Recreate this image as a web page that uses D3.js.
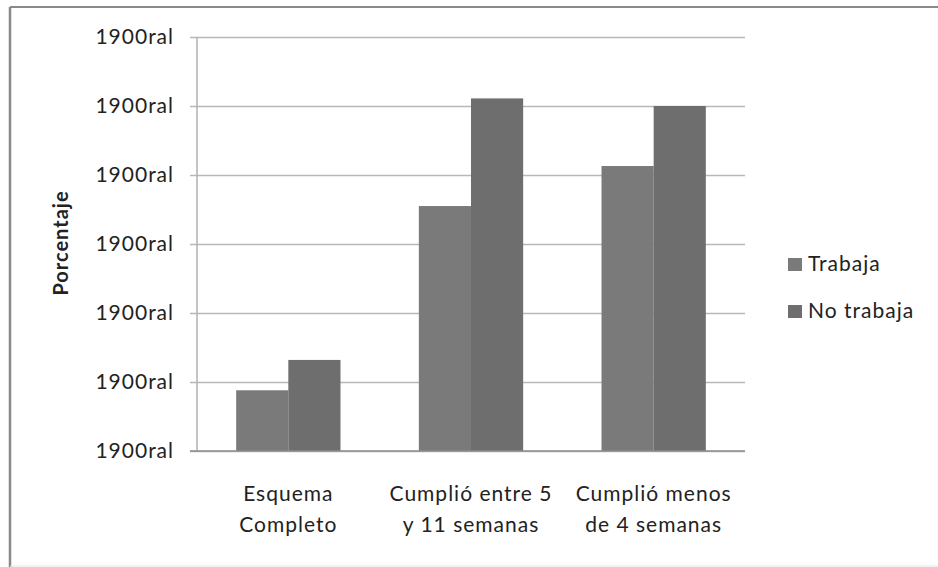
<!DOCTYPE html>
<html>
<head>
<meta charset="utf-8">
<script src="https://cdn.jsdelivr.net/npm/d3@7"></script>
<style>
  html, body { margin: 0; padding: 0; background: #fff; }
  svg { display: block; }
  text { font-family: Lato, "Open Sans", sans-serif; fill: #222; letter-spacing: 1px; }
</style>
</head>
<body>
<svg id="chart" width="938" height="567"></svg>
<script>
// Categories (two-line labels) and series values (percent)
const categories = ["Esquema Completo", "Cumplió entre 5 y 11 semanas", "Cumplió menos de 4 semanas"];
const categoryLines = [["Esquema", "Completo"], ["Cumplió entre 5", "y 11 semanas"], ["Cumplió menos", "de 4 semanas"]];
const seriesNames = ["Trabaja", "No trabaja"];
const trabaja = [8.8, 35.5, 41.3];
const noTrabaja = [13.2, 51.1, 50.0];
const tickValues = [0, 10, 20, 30, 40, 50, 60];
const tickLabel = "1900ral";
const colors = ["#7a7a7a", "#6e6e6e"];

const svg = d3.select("#chart");
const W = 938, H = 567;

// frame around the chart
svg.append("line").attr("x1", 10).attr("x2", W).attr("y1", 7).attr("y2", 7)
  .attr("stroke", "#8a8a8a").attr("stroke-width", 2);
svg.append("line").attr("x1", 10).attr("x2", 10).attr("y1", 7).attr("y2", H)
  .attr("stroke", "#8a8a8a").attr("stroke-width", 2.5);
svg.append("line").attr("x1", 10).attr("x2", W).attr("y1", 566).attr("y2", 566)
  .attr("stroke", "#e6e6e6").attr("stroke-width", 1);

const plot = { left: 197, right: 745, top: 37, bottom: 451 };

const y = d3.scaleLinear().domain([0, 60]).range([plot.bottom, plot.top]);
const x0 = d3.scaleBand().domain(categories).range([plot.left, plot.right]).padding(0);
const gap = x0.bandwidth() * 0.2145;
const x1 = d3.scaleBand().domain(seriesNames).range([gap, x0.bandwidth() - gap]).padding(0);

// gridlines with left tick stubs
const yAxis = d3.axisLeft(y).tickValues(tickValues)
  .tickSize(-(plot.right - plot.left)).tickFormat(() => tickLabel).tickPadding(17);
const gy = svg.append("g").attr("transform", `translate(${plot.left},0)`).call(yAxis);
gy.select(".domain").remove();
gy.selectAll(".tick line").attr("stroke", "#b8b8b8").attr("stroke-width", 1.3)
  .attr("x1", -7);
gy.selectAll(".tick text").attr("font-size", 21).attr("fill", "#222")
  .attr("x", -23);

// vertical axis line
svg.append("line").attr("x1", plot.left).attr("x2", plot.left)
  .attr("y1", plot.top).attr("y2", plot.bottom)
  .attr("stroke", "#b0b0b0").attr("stroke-width", 1.5);

// bars
const rows = categories.map((c, i) => ({ cat: c, values: [trabaja[i], noTrabaja[i]] }));
const groups = svg.append("g").selectAll("g").data(rows).join("g")
  .attr("transform", d => `translate(${x0(d.cat)},0)`);
groups.selectAll("rect")
  .data(d => d.values.map((v, j) => ({ name: seriesNames[j], v, j })))
  .join("rect")
  .attr("x", d => x1(d.name))
  .attr("width", x1.bandwidth())
  .attr("y", d => y(d.v))
  .attr("height", d => y(0) - y(d.v))
  .attr("fill", d => colors[d.j]);

// baseline
svg.append("line").attr("x1", plot.left - 7).attr("x2", plot.right)
  .attr("y1", plot.bottom).attr("y2", plot.bottom)
  .attr("stroke", "#8c8c8c").attr("stroke-width", 1.5);

// category labels
const cl = svg.append("g").selectAll("text").data(categories).join("text")
  .attr("text-anchor", "middle").attr("font-size", 21)
  .attr("x", d => x0(d) + x0.bandwidth() / 2);
cl.each(function (d, i) {
  const t = d3.select(this);
  categoryLines[i].forEach((line, k) => {
    t.append("tspan").attr("x", x0(d) + x0.bandwidth() / 2)
      .attr("y", 501 + k * 31).text(line);
  });
});

// y-axis title
svg.append("text").attr("transform", "translate(68,243) rotate(-90)")
  .attr("text-anchor", "middle").attr("font-size", 20).attr("font-weight", "bold")
  .text("Porcentaje");

// legend
const legend = svg.append("g").selectAll("g").data(seriesNames).join("g")
  .attr("transform", (d, i) => `translate(788,${258 + i * 47})`);
legend.append("rect").attr("width", 14).attr("height", 13).attr("fill", (d, i) => colors[i]);
legend.append("text").attr("x", 20).attr("y", 13).attr("font-size", 21).text(d => d);
</script>
</body>
</html>
